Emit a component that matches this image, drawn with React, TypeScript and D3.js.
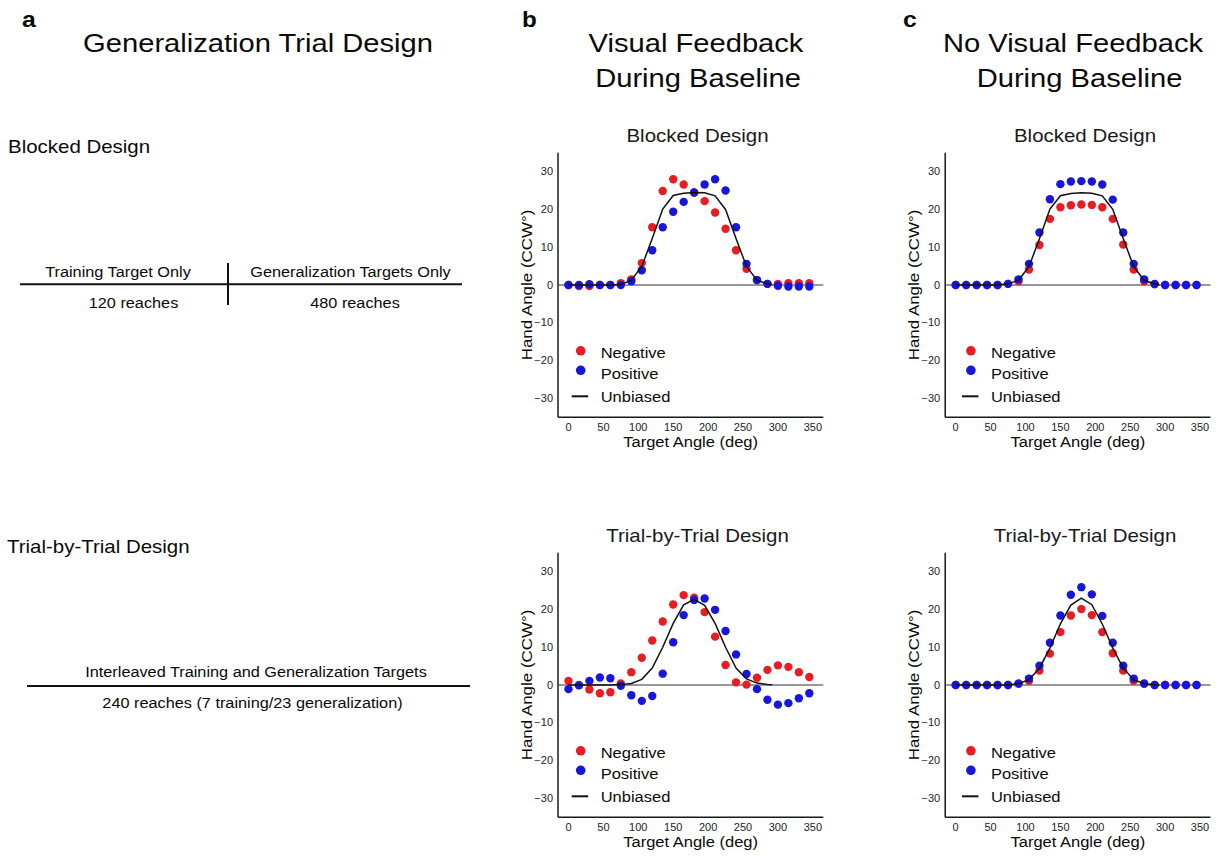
import React from "react";
import * as d3 from "d3";

// Target angles (deg) at which hand angle was sampled
const ANGLES = [0, 15, 30, 45, 60, 75, 90, 105, 120, 135, 150, 165, 180, 195, 210, 225, 240, 255, 270, 285, 300, 315, 330, 345];
// Angles for the unbiased generalization curve
const LINE_ANGLES = [0, 15, 30, 45, 60, 75, 90, 105, 120, 135, 150, 165, 180, 195, 210, 225, 240, 255, 270, 285, 292];

const X_TICKS = [0, 50, 100, 150, 200, 250, 300, 350];
const Y_TICKS = [-30, -20, -10, 0, 10, 20, 30];

// Visual feedback, blocked design
const bBlockedNeg = [0, -0.3, -0.3, 0, 0, 0.5, 1.5, 5.8, 15.3, 24.9, 28.0, 26.6, 24.5, 22.2, 19.2, 14.9, 9.2, 4.3, 1.3, 0.3, 0.3, 0.5, 0.5, 0.5];
const bBlockedPos = [0, 0, 0.2, 0, 0, 0, 1.0, 3.9, 9.2, 15.3, 19.4, 22.0, 24.5, 26.6, 28.0, 25.0, 15.3, 5.6, 1.3, 0.3, -0.2, -0.4, -0.4, -0.4];
const bBlockedUnb = [0, 0, 0, 0, 0, 0.1, 1.3, 4.9, 12.3, 20.1, 23.7, 24.3, 24.5, 24.4, 23.6, 20.0, 12.3, 4.9, 1.3, 0.3, 0.1];

// No visual feedback, blocked design
const cBlockedNeg = [0, 0, 0, 0, 0, 0.3, 1.0, 4.1, 10.6, 17.5, 20.6, 21.1, 21.3, 21.2, 20.6, 17.5, 10.7, 4.1, 1.0, 0.2, 0, 0, 0, 0];
const cBlockedPos = [0, 0, 0, 0, 0, 0.3, 1.5, 5.6, 13.9, 22.7, 26.7, 27.4, 27.5, 27.4, 26.6, 22.6, 13.9, 5.6, 1.5, 0.3, 0, 0, 0, 0];
const cBlockedUnb = [0, 0, 0, 0, 0, 0.3, 1.25, 4.85, 12.25, 20.1, 23.65, 24.25, 24.4, 24.3, 23.6, 20.05, 12.3, 4.85, 1.25, 0.25, 0.05];

// Visual feedback, trial-by-trial design
const bTrialNeg = [1.1, 0, -1.2, -2.2, -1.9, 0.4, 3.4, 7.2, 11.8, 16.8, 21.3, 23.8, 23.1, 19.3, 12.8, 5.3, 0.7, 0.1, 1.9, 4.0, 5.2, 4.8, 3.4, 2.1];
const bTrialPos = [-1.1, -0.1, 1.1, 2.0, 1.8, -0.2, -2.7, -4.2, -2.9, 3.0, 11.3, 18.5, 22.5, 22.9, 19.9, 14.3, 8.1, 2.9, -1.1, -3.9, -5.2, -4.8, -3.5, -2.2];
const bTrialUnb = [0, 0, 0, 0, 0, 0.1, 0.4, 1.5, 4.5, 10.0, 16.3, 21.2, 22.7, 21.1, 16.3, 10.0, 4.5, 1.6, 0.5, 0.15, 0.05];

// No visual feedback, trial-by-trial design
const cTrialNeg = [0, 0, 0, 0, 0, 0, 0.3, 1.1, 3.8, 8.3, 14.0, 18.4, 20.1, 18.5, 14.0, 8.4, 3.8, 1.1, 0.3, 0, 0, 0, 0, 0];
const cTrialPos = [0, 0, 0, 0, 0, 0, 0.4, 1.7, 5.1, 11.2, 18.4, 23.9, 25.9, 24.0, 18.3, 11.2, 5.1, 1.7, 0.4, 0, 0, 0, 0, 0];
const cTrialUnb = [0, 0, 0, 0, 0, 0, 0.35, 1.4, 4.45, 9.75, 16.2, 21.15, 23.0, 21.25, 16.15, 9.8, 4.45, 1.4, 0.35, 0.05, 0];

const LEGEND_LABELS = ["Negative", "Positive", "Unbiased"];

const RED = "#e81c22";
const BLUE = "#1616dc";
const FONT = "'Liberation Sans', Arial, Helvetica, sans-serif";
const SX = 1.1; // horizontal glyph stretch

type TProps = {
  x: number;
  y: number;
  size: number;
  anchor?: "start" | "middle" | "end";
  weight?: string;
  fill?: string;
  rotate?: number;
  children: React.ReactNode;
};

function T({ x, y, size, anchor = "start", weight = "normal", fill = "#0a0a0a", rotate = 0, children }: TProps) {
  const tf = `translate(${x},${y})${rotate ? ` rotate(${rotate})` : ""} scale(${SX},1)`;
  return (
    <text transform={tf} fontSize={size} fontFamily={FONT} fontWeight={weight} textAnchor={anchor} fill={fill}>
      {children}
    </text>
  );
}

type PanelProps = {
  left: number;
  top: number;
  title: string;
  titleX: number;
  neg: number[];
  pos: number[];
  unb: number[];
  legendDx: number;
};

const PLOT_W = 265.3;
const PLOT_H = 264.4;

function Panel({ left, top, title, titleX, neg, pos, unb, legendDx }: PanelProps) {
  const x = d3.scaleLinear().domain([-15, 365]).range([left, left + PLOT_W]);
  const y = d3.scaleLinear().domain([-35, 35]).range([top + PLOT_H, top]);
  const line = d3
    .line<number>()
    .x((_, i) => x(LINE_ANGLES[i]))
    .y((d) => y(d));
  const bottom = top + PLOT_H;
  const r = 4.2;
  return (
    <g>
      <T x={titleX} y={top - 11} size={18.6} anchor="middle" fill="#1a1a1a">
        {title}
      </T>
      {/* zero reference */}
      <line x1={x(-15)} x2={x(365)} y1={y(0)} y2={y(0)} stroke="#333" strokeWidth={1.1} />
      {/* axes */}
      <line x1={left} x2={left} y1={top} y2={bottom} stroke="#1a1a1a" strokeWidth={1.5} />
      <line x1={left} x2={left + PLOT_W} y1={bottom} y2={bottom} stroke="#1a1a1a" strokeWidth={1.5} />
      {Y_TICKS.map((t) => (
        <T key={t} x={left - 5} y={y(t) + 3.6} size={10} anchor="end" fill="#222">
          {t < 0 ? `\u2212${Math.abs(t)}` : `${t}`}
        </T>
      ))}
      {X_TICKS.map((t) => (
        <T key={t} x={x(t)} y={bottom + 13.8} size={10} anchor="middle" fill="#222">
          {t}
        </T>
      ))}
      <T x={x(175)} y={bottom + 30} size={15} anchor="middle">
        Target Angle (deg)
      </T>
      <T x={left - 26} y={y(0)} size={15.4} anchor="middle" rotate={-90}>
        Hand Angle (CCW°)
      </T>
      {neg.map((v, i) => (
        <circle key={`n${i}`} cx={x(ANGLES[i])} cy={y(v)} r={r} fill={RED} />
      ))}
      {pos.map((v, i) => (
        <circle key={`p${i}`} cx={x(ANGLES[i])} cy={y(v)} r={r} fill={BLUE} />
      ))}
      <path d={line(unb) || ""} fill="none" stroke="#111" strokeWidth={1.5} />
      {/* legend */}
      <circle cx={left + legendDx} cy={top + 198} r={r + 0.6} fill={RED} />
      <circle cx={left + legendDx} cy={top + 217.5} r={r + 0.6} fill={BLUE} />
      <line x1={left + legendDx - 9} x2={left + legendDx + 7.5} y1={top + 243.5} y2={top + 243.5} stroke="#111" strokeWidth={2} />
      <T x={left + legendDx + 20} y={top + 205.5} size={15}>
        {LEGEND_LABELS[0]}
      </T>
      <T x={left + legendDx + 20} y={top + 226} size={15}>
        {LEGEND_LABELS[1]}
      </T>
      <T x={left + legendDx + 20} y={top + 249} size={15}>
        {LEGEND_LABELS[2]}
      </T>
    </g>
  );
}

export default function App() {
  return (
    <svg
      width={1225}
      height={856}
      viewBox="0 0 1225 856"
      style={{ position: "absolute", left: 0, top: 0, background: "#fff" }}
    >
      <rect x={0} y={0} width={1225} height={856} fill="#fff" />

      {/* panel letters */}
      <T x={22} y={27} size={22.5} weight="bold">a</T>
      <T x={522} y={27} size={22} weight="bold">b</T>
      <T x={903} y={27} size={22.5} weight="bold">c</T>

      {/* column headings */}
      <T x={258} y={52} size={26.5} anchor="middle">Generalization Trial Design</T>
      <T x={696} y={52} size={26.5} anchor="middle">Visual Feedback</T>
      <T x={698} y={87} size={26.5} anchor="middle">During Baseline</T>
      <T x={1073} y={52} size={26.5} anchor="middle">No Visual Feedback</T>
      <T x={1079.5} y={87} size={26.5} anchor="middle">During Baseline</T>

      {/* trial design schematic: blocked */}
      <T x={8} y={153} size={18.6}>Blocked Design</T>
      <line x1={20} x2={462} y1={284.3} y2={284.3} stroke="#111" strokeWidth={2} />
      <line x1={228} x2={228} y1={263} y2={305} stroke="#111" strokeWidth={2} />
      <T x={118} y={277} size={14.8} anchor="middle">Training Target Only</T>
      <T x={350.5} y={277} size={14.8} anchor="middle">Generalization Targets Only</T>
      <T x={133.5} y={308} size={14.8} anchor="middle">120 reaches</T>
      <T x={355} y={308} size={14.8} anchor="middle">480 reaches</T>

      {/* trial design schematic: trial-by-trial */}
      <T x={7} y={553} size={18.6}>Trial-by-Trial Design</T>
      <line x1={27} x2={470} y1={686} y2={686} stroke="#111" strokeWidth={2} />
      <T x={256} y={677} size={14.8} anchor="middle">Interleaved Training and Generalization Targets</T>
      <T x={252.5} y={708} size={14.8} anchor="middle">240 reaches (7 training/23 generalization)</T>

      <Panel left={558} top={152.8} title="Blocked Design" titleX={697.5} neg={bBlockedNeg} pos={bBlockedPos} unb={bBlockedUnb} legendDx={22.7} />
      <Panel left={945.2} top={152.8} title="Blocked Design" titleX={1085} neg={cBlockedNeg} pos={cBlockedPos} unb={cBlockedUnb} legendDx={25.7} />
      <Panel left={558} top={552.8} title="Trial-by-Trial Design" titleX={697.5} neg={bTrialNeg} pos={bTrialPos} unb={bTrialUnb} legendDx={22.7} />
      <Panel left={945.2} top={552.8} title="Trial-by-Trial Design" titleX={1085} neg={cTrialNeg} pos={cTrialPos} unb={cTrialUnb} legendDx={25.7} />
    </svg>
  );
}
